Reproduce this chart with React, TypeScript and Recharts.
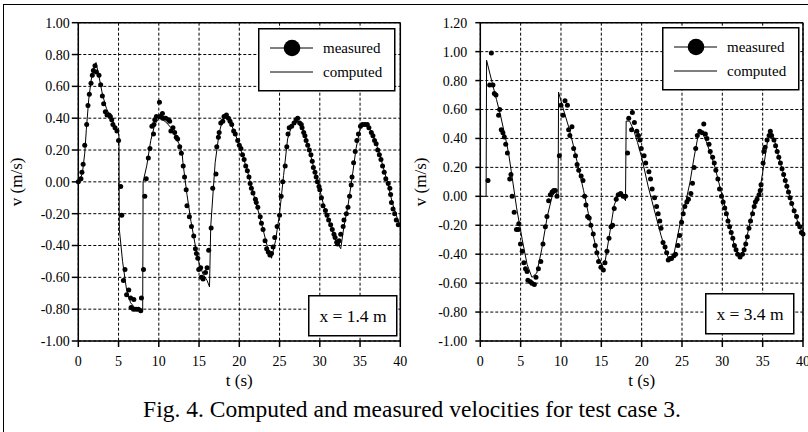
import React from 'react';
import {
  CartesianGrid,
  ComposedChart,
  Line,
  ReferenceLine,
  Scatter,
  XAxis,
  YAxis,
} from 'recharts';

const serif = '"Liberation Serif", "Times New Roman", serif';

/* axis ticks */
const timeTicks = [0, 5, 10, 15, 20, 25, 30, 35, 40];
const nearVelocityTicks = [-1, -0.8, -0.6, -0.4, -0.2, 0, 0.2, 0.4, 0.6, 0.8, 1];
const farVelocityTicks = [-1, -0.8, -0.6, -0.4, -0.2, 0, 0.2, 0.4, 0.6, 0.8, 1, 1.2];

/* x = 1.4 m : [t (s), v (m/s)] */
const measuredNear: [number, number][] = [
  [0, 0], [0.33, 0.02], [0.45, 0.06], [0.6, 0.11], [0.8, 0.23], [1.04, 0.36], [1.2, 0.48],
  [1.37, 0.55], [1.58, 0.62], [1.74, 0.67], [1.87, 0.7], [2.07, 0.73], [2.24, 0.69], [2.57, 0.67],
  [2.78, 0.61], [2.99, 0.54], [3.15, 0.49], [3.36, 0.44], [3.57, 0.42], [3.82, 0.42], [3.98, 0.41],
  [4.15, 0.39], [4.3, 0.36], [4.56, 0.34], [4.8, 0.32], [5.0, 0.26], [5.27, -0.03], [5.4, -0.21],
  [5.6, -0.62], [5.8, -0.55], [6.0, -0.71], [6.27, -0.68], [6.5, -0.73], [6.56, -0.79], [6.85, -0.8],
  [6.9, -0.74], [7.18, -0.8], [7.47, -0.8], [7.76, -0.81], [7.84, -0.73], [8.1, -0.55], [8.26, -0.09],
  [8.44, 0.02], [8.7, 0.15], [8.9, 0.21], [9.14, 0.35], [9.34, 0.3], [9.4, 0.36], [9.5, 0.39],
  [9.7, 0.41], [10.08, 0.5], [10.16, 0.41], [10.45, 0.43], [10.5, 0.4], [10.86, 0.4], [11.2, 0.39],
  [11.35, 0.38], [11.5, 0.32], [11.76, 0.34], [11.97, 0.31], [12.17, 0.28], [12.34, 0.27], [12.6, 0.22],
  [12.8, 0.18], [13.03, 0.1], [13.2, 0.03], [13.4, -0.05], [13.5, -0.15], [13.8, -0.22], [14.06, -0.28],
  [14.34, -0.34], [14.55, -0.42], [14.67, -0.45], [14.84, -0.48], [14.96, -0.55], [15.2, -0.54],
  [15.3, -0.6], [15.5, -0.61], [15.8, -0.57], [16.0, -0.54], [16.2, -0.43], [16.5, -0.29], [16.7, -0.04],
  [17.1, 0.05], [17.2, 0.22], [17.4, 0.28], [17.5, 0.31], [17.7, 0.37], [17.95, 0.38], [18.1, 0.41],
  [18.4, 0.42], [18.65, 0.4], [18.85, 0.38], [19.06, 0.36], [19.3, 0.32], [19.5, 0.3], [19.8, 0.26],
  [20.0, 0.23], [20.2, 0.21], [20.4, 0.17], [20.6, 0.14], [20.8, 0.1], [21.0, 0.07], [21.2, 0.03],
  [21.35, -0.01], [21.5, -0.04], [21.7, -0.07], [22.0, -0.11], [22.1, -0.13], [22.3, -0.16],
  [22.6, -0.22], [22.75, -0.26], [22.95, -0.3], [23.2, -0.37], [23.4, -0.42], [23.6, -0.44],
  [23.8, -0.46], [24.0, -0.45], [24.2, -0.41], [24.4, -0.35], [24.7, -0.28], [25.0, -0.21],
  [25.2, -0.09], [25.4, 0.0], [25.7, 0.1], [25.9, 0.22], [26.05, 0.3], [26.2, 0.34], [26.5, 0.35],
  [26.8, 0.37], [27.05, 0.39], [27.25, 0.4], [27.5, 0.37], [27.7, 0.36], [27.8, 0.34], [28.0, 0.31],
  [28.15, 0.29], [28.3, 0.26], [28.5, 0.23], [28.7, 0.2], [28.9, 0.17], [29.06, 0.13], [29.2, 0.09],
  [29.4, 0.06], [29.55, 0.03], [29.7, 0.0], [29.9, -0.03], [30.0, -0.05], [30.2, -0.1], [30.4, -0.15],
  [30.7, -0.18], [30.9, -0.21], [31.1, -0.24], [31.35, -0.27], [31.55, -0.3], [31.76, -0.33],
  [31.9, -0.35], [32.1, -0.38], [32.2, -0.39], [32.4, -0.37], [32.6, -0.33], [32.9, -0.28],
  [33.0, -0.24], [33.3, -0.2], [33.5, -0.16], [33.7, -0.09], [33.9, -0.02], [34.0, 0.03], [34.2, 0.12],
  [34.4, 0.19], [34.6, 0.26], [34.8, 0.3], [35.05, 0.35], [35.3, 0.36], [35.6, 0.36], [35.9, 0.36],
  [36.1, 0.34], [36.4, 0.31], [36.6, 0.29], [36.8, 0.26], [37.0, 0.24], [37.2, 0.2], [37.4, 0.17],
  [37.6, 0.14], [37.8, 0.1], [38.0, 0.06], [38.2, 0.02], [38.5, -0.01], [38.7, -0.04], [38.8, -0.08],
  [38.9, -0.13], [39.1, -0.17], [39.3, -0.2], [39.5, -0.24], [39.75, -0.27],
];

const computedNear: [number, number][] = [
  [0, 0], [0.5, 0.05], [0.8, 0.18], [1.0, 0.33], [1.3, 0.52], [1.6, 0.64], [2.0, 0.72], [2.2, 0.75],
  [2.5, 0.68], [3.0, 0.55], [3.5, 0.46], [4.0, 0.41], [4.5, 0.36], [4.9, 0.31], [5.05, 0.3],
  [5.1, -0.3], [5.5, -0.5], [6.0, -0.68], [6.5, -0.76], [7.0, -0.79], [7.5, -0.8], [8.0, -0.8],
  [8.05, 0.0], [8.5, 0.1], [9.0, 0.26], [9.5, 0.36], [10.0, 0.4], [10.5, 0.39], [11.0, 0.37],
  [11.5, 0.34], [12.0, 0.29], [12.5, 0.24], [12.9, 0.18], [13.0, 0.12], [13.5, -0.08], [14.0, -0.25],
  [14.5, -0.39], [15.0, -0.51], [15.5, -0.58], [16.0, -0.62], [16.3, -0.66], [16.45, -0.28],
  [17.0, 0.12], [17.5, 0.31], [18.0, 0.4], [18.4, 0.42], [19.0, 0.36], [19.5, 0.3], [20.0, 0.23],
  [20.5, 0.15], [21.0, 0.07], [21.5, -0.03], [22.0, -0.12], [22.5, -0.21], [23.0, -0.31],
  [23.5, -0.41], [24.0, -0.48], [24.5, -0.37], [25.0, -0.2], [25.5, 0.04], [26.0, 0.27], [26.5, 0.35],
  [27.0, 0.37], [27.4, 0.38], [28.0, 0.31], [28.5, 0.23], [29.0, 0.14], [29.5, 0.04], [30.0, -0.05],
  [30.5, -0.15], [31.0, -0.23], [31.5, -0.3], [32.0, -0.37], [32.6, -0.42], [33.0, -0.28],
  [33.5, -0.15], [34.0, 0.02], [34.5, 0.21], [35.0, 0.33], [35.5, 0.36], [36.0, 0.35], [36.5, 0.3],
  [37.0, 0.24], [37.5, 0.16], [38.0, 0.07], [38.5, -0.02], [39.0, -0.13], [39.5, -0.21], [40.0, -0.28],
];

/* x = 3.4 m */
const measuredFar: [number, number][] = [
  [0.95, 0.11], [1.16, 0.77], [1.37, 0.99], [1.57, 0.77], [1.74, 0.71], [1.94, 0.7], [2.27, 0.56],
  [2.4, 0.6], [2.6, 0.46], [2.8, 0.44], [2.98, 0.41], [3.15, 0.36], [3.36, 0.3], [3.65, 0.12],
  [3.8, 0.15], [3.94, 0.0], [4.2, -0.11], [4.48, -0.23], [4.7, -0.23], [4.77, -0.19], [4.98, -0.33],
  [5.2, -0.38], [5.4, -0.46], [5.6, -0.5], [5.8, -0.52], [5.9, -0.58], [6.2, -0.59], [6.4, -0.6],
  [6.7, -0.61], [6.9, -0.56], [7.2, -0.5], [7.5, -0.45], [7.77, -0.33], [8.06, -0.21], [8.26, -0.14],
  [8.47, -0.03], [8.68, 0.01], [8.9, 0.03], [9.1, 0.04], [9.3, 0.04], [9.5, 0.0], [9.8, 0.28],
  [10.0, 0.63], [10.24, 0.56], [10.5, 0.66], [10.8, 0.63], [10.95, 0.46], [11.1, 0.42], [11.36, 0.48],
  [11.57, 0.33], [11.8, 0.28], [12.0, 0.22], [12.2, 0.18], [12.5, 0.14], [12.73, 0.11], [12.93, 0.0],
  [13.1, -0.06], [13.3, -0.14], [13.5, -0.15], [13.7, -0.2], [14.0, -0.26], [14.25, -0.34],
  [14.45, -0.39], [14.66, -0.45], [14.95, -0.49], [15.25, -0.51], [15.45, -0.46], [15.7, -0.38],
  [15.95, -0.29], [16.2, -0.21], [16.4, -0.2], [16.6, -0.085], [16.85, -0.02], [17.1, 0.01],
  [17.4, 0.02], [17.7, 0.0], [18.0, 0.0], [18.25, 0.3], [18.4, 0.54], [18.75, 0.46], [18.85, 0.58],
  [19.1, 0.51], [19.4, 0.45], [19.6, 0.42], [19.8, 0.39], [19.95, 0.33], [20.3, 0.28], [20.5, 0.23],
  [20.9, 0.17], [21.1, 0.12], [21.3, 0.05], [21.6, -0.01], [21.85, -0.07], [22.05, -0.12],
  [22.25, -0.17], [22.4, -0.22], [22.65, -0.32], [22.9, -0.35], [23.1, -0.39], [23.3, -0.44],
  [23.5, -0.43], [23.7, -0.43], [24.0, -0.41], [24.2, -0.4], [24.5, -0.34], [24.7, -0.27],
  [24.95, -0.18], [25.15, -0.12], [25.35, -0.07], [25.6, -0.04], [25.8, -0.02], [26.1, 0.02],
  [26.3, 0.09], [26.5, 0.2], [26.7, 0.33], [26.9, 0.42], [27.2, 0.45], [27.5, 0.44], [27.7, 0.5],
  [27.9, 0.43], [28.1, 0.4], [28.35, 0.36], [28.5, 0.31], [28.8, 0.27], [29.0, 0.23], [29.2, 0.18],
  [29.45, 0.12], [29.65, 0.05], [29.9, 0.0], [30.1, -0.04], [30.3, -0.08], [30.5, -0.12],
  [30.7, -0.17], [30.9, -0.21], [31.1, -0.25], [31.3, -0.29], [31.5, -0.34], [31.7, -0.37],
  [31.9, -0.4], [32.2, -0.42], [32.5, -0.4], [32.7, -0.37], [32.9, -0.33], [33.1, -0.28], [33.3, -0.22],
  [33.5, -0.17], [33.75, -0.12], [33.95, -0.07], [34.1, -0.04], [34.3, -0.02], [34.55, 0.01],
  [34.7, 0.04], [34.8, 0.08], [35.05, 0.23], [35.15, 0.31], [35.3, 0.34], [35.55, 0.39], [35.8, 0.42],
  [35.95, 0.45], [36.1, 0.42], [36.4, 0.39], [36.6, 0.35], [36.8, 0.31], [37.0, 0.27], [37.2, 0.23],
  [37.4, 0.19], [37.6, 0.15], [37.8, 0.11], [38.0, 0.07], [38.2, 0.03], [38.4, -0.01], [38.6, -0.05],
  [38.9, -0.1], [39.2, -0.14], [39.35, -0.19], [39.6, -0.21], [39.8, -0.25], [40.0, -0.26],
];

const computedFar: [number, number][] = [
  [0, 0], [0.72, 0], [0.78, 0.94], [1.45, 0.79], [2.0, 0.67], [2.5, 0.56], [3.1, 0.41], [3.5, 0.3],
  [3.9, 0.15], [4.5, -0.08], [5.2, -0.3], [5.8, -0.47], [6.4, -0.56], [7.0, -0.53], [7.6, -0.37],
  [8.3, -0.14], [8.9, 0.0], [9.3, 0.03], [9.65, 0.0], [9.7, 0.72], [10.2, 0.62], [10.95, 0.48],
  [11.5, 0.36], [12.2, 0.19], [12.8, 0.04], [13.4, -0.12], [14.0, -0.27], [14.6, -0.42], [15.1, -0.48],
  [15.5, -0.44], [16.0, -0.27], [16.6, -0.06], [17.05, 0.0], [17.5, 0.01], [18.0, -0.03],
  [18.08, 0.52], [18.5, 0.52], [19.0, 0.46], [19.5, 0.37], [20.0, 0.27], [20.8, 0.07], [21.5, -0.08],
  [22.4, -0.27], [23.0, -0.38], [23.4, -0.44], [24.0, -0.4], [24.8, -0.18], [25.5, -0.03], [26.0, 0.1],
  [26.5, 0.27], [27.0, 0.42], [27.4, 0.455], [28.0, 0.38], [28.5, 0.3], [29.0, 0.22], [29.5, 0.11],
  [30.0, 0.0], [30.5, -0.11], [31.0, -0.23], [31.5, -0.34], [32.2, -0.42], [32.7, -0.37], [33.2, -0.24],
  [33.8, -0.09], [34.5, -0.01], [35.1, 0.2], [35.6, 0.38], [36.1, 0.44], [36.5, 0.38], [37.0, 0.27],
  [37.5, 0.17], [38.0, 0.07], [38.5, -0.03], [39.0, -0.12], [39.5, -0.2], [40.0, -0.26],
];

const toPoints = (pairs: [number, number][]) => pairs.map(([t, v]) => ({ t, v }));

const tickStyle = { fontSize: 14, fill: '#000', fontFamily: serif, style: { fontFamily: serif } };
const titleStyle = { fontSize: 17, fill: '#000', fontFamily: serif };

interface PanelProps {
  left: number;
  width: number;
  yAxisWidth: number;
  rightMargin: number;
  vTicks: number[];
  measured: [number, number][];
  computed: [number, number][];
  yTickSize: number;
  yTickMargin: number;
  titleOffset: number;
}

function VelocityPanel({
  left,
  width,
  yAxisWidth,
  rightMargin,
  vTicks,
  measured,
  computed,
  yTickSize,
  yTickMargin,
  titleOffset,
}: PanelProps) {
  const vMin = vTicks[0];
  const vMax = vTicks[vTicks.length - 1];
  return (
    <div style={{ position: 'absolute', left, top: 0, fontFamily: serif }}>
      <ComposedChart
        width={width}
        height={400}
        margin={{ top: 22.7, right: rightMargin, bottom: 14, left: 0 }}
        style={{ fontFamily: serif }}
      >
        <CartesianGrid stroke="#000" strokeWidth={1} strokeDasharray="3 2" />
        <XAxis
          type="number"
          dataKey="t"
          domain={[0, 40]}
          ticks={timeTicks}
          interval={0}
          height={45}
          tickSize={6}
          tickMargin={9}
          stroke="#000"
          strokeWidth={1.5}
          tick={tickStyle}
          label={{
            value: 't (s)',
            position: 'insideBottom',
            offset: 0,
            ...titleStyle,
            style: { fontFamily: serif },
          }}
        />
        <YAxis
          type="number"
          domain={[vMin, vMax]}
          ticks={vTicks}
          interval={0}
          width={yAxisWidth}
          tickSize={yTickSize}
          tickMargin={yTickMargin}
          stroke="#000"
          strokeWidth={1.5}
          tick={tickStyle}
          tickFormatter={(v: number) => v.toFixed(2)}
          label={{
            value: 'v (m/s)',
            angle: -90,
            position: 'insideLeft',
            offset: titleOffset,
            ...titleStyle,
            style: { textAnchor: 'middle', fontFamily: serif },
          }}
        />
        <ReferenceLine y={vMax} stroke="#000" strokeWidth={1.5} />
        <ReferenceLine x={40} stroke="#000" strokeWidth={1.5} />
        <Line
          data={toPoints(computed)}
          dataKey="v"
          type="linear"
          stroke="#000"
          strokeWidth={1}
          dot={false}
          activeDot={false}
          isAnimationActive={false}
        />
        <Scatter
          data={toPoints(measured)}
          dataKey="v"
          fill="#000"
          isAnimationActive={false}
          shape={(p: any) => <circle cx={p.cx} cy={p.cy} r={2.5} fill="#000" />}
        />
      </ComposedChart>
    </div>
  );
}

function LegendBox({ x, y }: { x: number; y: number }) {
  return (
    <svg
      width={138}
      height={64}
      style={{ position: 'absolute', left: x, top: y, fontFamily: serif }}
    >
      <rect x={0.75} y={0.75} width={136} height={62} fill="#fff" stroke="#000" strokeWidth={1.5} />
      <line x1={12} y1={20} x2={55} y2={20} stroke="#000" strokeWidth={1} />
      <circle cx={34} cy={20} r={8.3} fill="#000" />
      <text x={65} y={20} dy="0.35em" fontSize={15} fontFamily={serif}>measured</text>
      <line x1={12} y1={44} x2={55} y2={44} stroke="#000" strokeWidth={1} />
      <text x={65} y={44} dy="0.35em" fontSize={15} fontFamily={serif}>computed</text>
    </svg>
  );
}

function LocationBox({ x, y, label }: { x: number; y: number; label: string }) {
  return (
    <svg
      width={90}
      height={42}
      style={{ position: 'absolute', left: x, top: y, fontFamily: serif }}
    >
      <rect x={0.75} y={0.75} width={88} height={40} fill="#fff" stroke="#000" strokeWidth={1.5} />
      <text x={45} y={21} dy="0.35em" fontSize={17.5} textAnchor="middle" fontFamily={serif}>
        {label}
      </text>
    </svg>
  );
}

export default function App() {
  return (
    <div
      style={{
        position: 'fixed',
        left: 0,
        top: 0,
        width: 808,
        height: 432,
        overflow: 'hidden',
        background: '#fff',
        fontFamily: serif,
      }}
    >
      <div
        style={{
          position: 'absolute',
          left: 3,
          top: 4,
          width: 900,
          height: 500,
          border: '1.5px solid #000',
        }}
      />
      <VelocityPanel
        left={0}
        width={410}
        yAxisWidth={78.3}
        rightMargin={9.7}
        vTicks={nearVelocityTicks}
        measured={measuredNear}
        computed={computedNear}
        yTickSize={6.5}
        yTickMargin={2}
        titleOffset={16}
      />
      <VelocityPanel
        left={400}
        width={408}
        yAxisWidth={80.3}
        rightMargin={5}
        vTicks={farVelocityTicks}
        measured={measuredFar}
        computed={computedFar}
        yTickSize={5}
        yTickMargin={8}
        titleOffset={20}
      />
      <LegendBox x={258} y={28} />
      <LegendBox x={662} y={27} />
      <LocationBox x={308} y={295} label="x = 1.4 m" />
      <LocationBox x={705} y={293} label="x = 3.4 m" />
      <svg width={808} height={432} style={{ position: 'absolute', left: 0, top: 0, pointerEvents: 'none' }}>
        <text x={412} y={417} textAnchor="middle" fontSize={23.5} fontFamily={serif} fill="#000">
          Fig. 4. Computed and measured velocities for test case 3.
        </text>
      </svg>
    </div>
  );
}
